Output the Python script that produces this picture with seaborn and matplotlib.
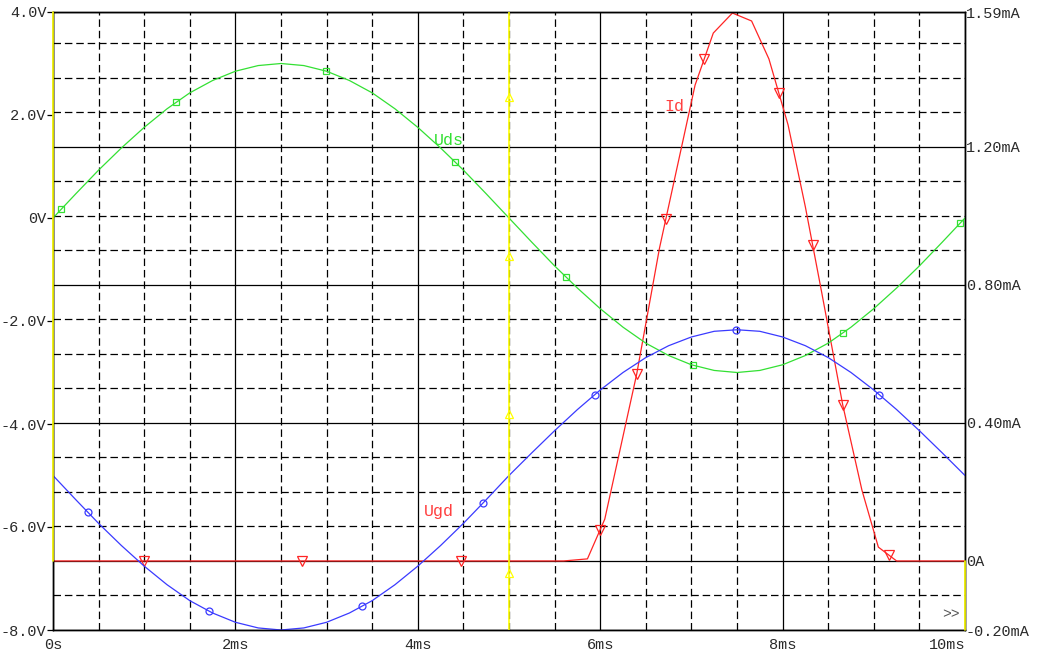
import matplotlib
matplotlib.use("Agg")
import matplotlib.pyplot as plt
import numpy as np
import seaborn as sns

# ---------------- data ----------------
t_v = [0.00, 0.25, 0.50, 0.75, 1.00, 1.25, 1.50, 1.75, 2.00, 2.25, 2.50,
       2.75, 3.00, 3.25, 3.50, 3.75, 4.00, 4.25, 4.50, 4.75, 5.00,
       5.25, 5.50, 5.75, 6.00, 6.25, 6.50, 6.75, 7.00, 7.25, 7.50,
       7.75, 8.00, 8.25, 8.50, 8.75, 9.00, 9.25, 9.50, 9.75, 10.00]
uds = [0.00, 0.47, 0.93, 1.36, 1.76, 2.12, 2.43, 2.67, 2.85, 2.96, 3.00,
       2.96, 2.85, 2.67, 2.43, 2.12, 1.76, 1.36, 0.93, 0.47, 0.00,
       -0.47, -0.93, -1.36, -1.76, -2.12, -2.43, -2.67, -2.85, -2.96, -3.00,
       -2.96, -2.85, -2.67, -2.43, -2.12, -1.76, -1.36, -0.93, -0.47, 0.00]
ugd = [-5.00, -5.47, -5.93, -6.36, -6.76, -7.12, -7.43, -7.67, -7.85, -7.96, -8.00,
       -7.96, -7.85, -7.67, -7.43, -7.12, -6.76, -6.36, -5.93, -5.47, -5.00,
       -4.56, -4.13, -3.72, -3.34, -3.00, -2.71, -2.48, -2.31, -2.20, -2.17,
       -2.20, -2.31, -2.48, -2.71, -3.00, -3.34, -3.72, -4.13, -4.56, -5.00]

t_id = [0.00, 5.60, 5.86, 6.05, 6.40, 6.65, 7.04, 7.24, 7.45, 7.66, 7.85,
        8.06, 8.25, 8.43, 8.66, 8.87, 9.05, 9.25, 10.00]
id_ma = [0.000, 0.000, 0.006, 0.121, 0.541, 0.906, 1.378, 1.529, 1.587, 1.564, 1.454,
         1.263, 1.025, 0.776, 0.451, 0.205, 0.040, 0.000, 0.000]

# marker times along each trace
mk_uds_t = [0.09, 1.35, 2.99, 4.41, 5.63, 7.02, 8.66, 9.95]
mk_ugd_t = [0.38, 1.71, 3.39, 4.71, 5.94, 7.49, 9.06]
mk_id_t = [1.00, 2.73, 4.47, 6.00, 6.40, 6.72, 7.14, 7.96, 8.33, 8.66, 9.17]
cursor_t = 5.0
cursor_mk_v = [2.35, -0.74, -3.81, -6.90]

# axes / ticks
x_major = [0, 2, 4, 6, 8, 10]
x_labels = ["0s", "2ms", "4ms", "6ms", "8ms", "10ms"]
x_minor = [0.5, 1, 1.5, 2.5, 3, 3.5, 4.5, 5, 5.5, 6.5, 7, 7.5, 8.5, 9, 9.5]
v_ticks = [-8, -6, -4, -2, 0, 2, 4]
v_labels = ["-8.0V", "-6.0V", "-4.0V", "-2.0V", "0V", "2.0V", "4.0V"]
ma_major = [-0.2, 0.0, 0.4, 0.8, 1.2, 1.59]
ma_labels = ["-0.20mA", "0A", "0.40mA", "0.80mA", "1.20mA", "1.59mA"]
ma_minor = [-0.1, 0.1, 0.2, 0.3, 0.5, 0.6, 0.7, 0.9, 1.0, 1.1, 1.3, 1.4, 1.5]
v_lim = (-8, 4)
ma_lim = (-0.2, 1.59)

# ---------------- styling ----------------
sns.set_theme(style="white")
plt.rcParams["font.family"] = ["Liberation Mono", "DejaVu Sans"]
plt.rcParams["lines.scale_dashes"] = False

GREEN = "#33e033"
BLUE = "#3a3aff"
RED = "#ff2424"
YELLOW = "#ffff00"
TXT = "#2a2a2a"
FS = 11

fig = plt.figure(figsize=(10.37, 6.56), dpi=100)
ax = fig.add_axes([53 / 1037, 26 / 656, 912 / 1037, 618 / 656])
axv = ax.twinx()

# current axis (right) carries the grid
ax.set_xlim(0, 10)
ax.set_ylim(*ma_lim)
ax.yaxis.tick_right()
ax.yaxis.set_label_position("right")
axv.yaxis.tick_left()
axv.yaxis.set_label_position("left")

ax.set_xticks(x_major)
ax.set_xticklabels(x_labels)
ax.set_xticks(x_minor, minor=True)
ax.set_yticks(ma_major)
ax.set_yticklabels(ma_labels)
ax.set_yticks(ma_minor, minor=True)
ax.grid(which="major", color="black", lw=0.9, ls="-")
ax.grid(which="minor", color="black", lw=0.9, ls=(0, (5.4, 2.8)))
ax.set_axisbelow(True)
ax.tick_params(axis="y", which="both", length=0, pad=0.5, labelsize=FS, labelcolor=TXT)
ax.tick_params(axis="x", which="major", length=4.5, width=0.9, color="black",
               direction="out", pad=1.5, labelsize=FS, labelcolor=TXT)
ax.tick_params(axis="x", which="minor", length=0)
for lab in ax.get_xticklabels():
    lab.set_horizontalalignment("center")
ax.get_xticklabels()[-1].set_horizontalalignment("right")

axv.set_ylim(*v_lim)
axv.set_yticks(v_ticks)
axv.set_yticklabels(v_labels)
axv.tick_params(axis="y", which="major", length=4.3, width=0.9, color="black",
                direction="out", pad=0.3, labelsize=FS, labelcolor=TXT)

for a in (ax, axv):
    for s in a.spines.values():
        s.set_color("black")
        s.set_linewidth(1.0)

# ---------------- traces ----------------
sns.lineplot(x=t_id, y=id_ma, ax=ax, color=RED, lw=0.9, sort=False)
sns.lineplot(x=t_v, y=uds, ax=axv, color=GREEN, lw=0.9, sort=False)
sns.lineplot(x=t_v, y=ugd, ax=axv, color=BLUE, lw=0.9, sort=False)

ax.plot(mk_id_t, np.interp(mk_id_t, t_id, id_ma), ls="none", marker="v", ms=6.5,
        mfc="none", mec=RED, mew=0.9)
axv.plot(mk_uds_t, np.interp(mk_uds_t, t_v, uds), ls="none", marker="s", ms=5,
         mfc="none", mec=GREEN, mew=0.9)
axv.plot(mk_ugd_t, np.interp(mk_ugd_t, t_v, ugd), ls="none", marker="o", ms=5,
         mfc="none", mec=BLUE, mew=0.9)

# yellow cursor / trace
axv.axvline(cursor_t, color=YELLOW, lw=1.2, zorder=5)
axv.plot([cursor_t] * len(cursor_mk_v), cursor_mk_v, ls="none", marker="^", ms=5.5,
         mfc="none", mec=YELLOW, mew=0.9, zorder=6)
zero_frac = (0 - ma_lim[0]) / (ma_lim[1] - ma_lim[0])
axv.axvline(0, ymin=zero_frac, ymax=1, color=YELLOW, lw=1.2, clip_on=False, zorder=7)
axv.axvline(10, ymin=0, ymax=zero_frac, color=YELLOW, lw=1.2, clip_on=False, zorder=7)

# trace labels
axv.text(4.34, 1.50, "Uds", color=GREEN, ha="center", va="center", fontsize=FS + 1)
axv.text(6.81, 2.17, "Id", color="#ff4040", ha="center", va="center", fontsize=FS + 1)
axv.text(4.23, -5.69, "Ugd", color="#ff4040", ha="center", va="center", fontsize=FS + 1)
axv.text(9.84, -7.69, ">>", color="#555555", ha="center", va="center", fontsize=FS - 0.5)

axv.set_xlim(0, 10)
ax.set_xlabel("")
ax.set_ylabel("")
axv.set_ylabel("")

fig.savefig("out.png", dpi=100)
